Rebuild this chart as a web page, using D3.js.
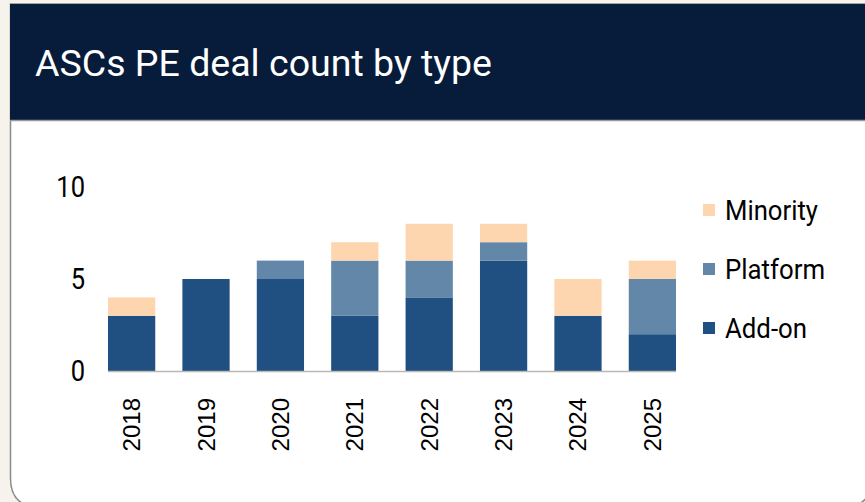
<!DOCTYPE html>
<html><head><meta charset="utf-8">
<script src="https://cdn.jsdelivr.net/npm/d3@7"></script>
<style>html,body{margin:0;padding:0;background:#f6f3ec;overflow:hidden}svg{display:block}</style>
</head><body>
<svg id="c" width="865" height="502"></svg>
<script>
const years = ["2018","2019","2020","2021","2022","2023","2024","2025"];
const addOn = [3,5,5,3,4,6,3,2];
const platform = [0,0,1,3,2,1,0,3];
const minority = [1,0,0,1,2,1,2,1];
const seriesNames = ["Add-on","Platform","Minority"];
const seriesColors = ["#1f5081","#6287a8","#fdd6b0"];
const yTicks = [0,5,10];
const title = "ASCs PE deal count by type";

const svg = d3.select("#c");
// card
svg.append("path")
  .attr("d","M10.5,4 L10.5,478 Q10.5,507 39.5,507 L843,507 Q872,507 872,478 L872,4 Z")
  .attr("fill","#fff").attr("stroke","#8a8a8a").attr("stroke-width",1.5);
svg.append("rect").attr("x",10).attr("y",4).attr("width",855).attr("height",116).attr("fill","#061c3a");
svg.append("line").attr("x1",10).attr("x2",865).attr("y1",120.5).attr("y2",120.5).attr("stroke","#9a9a9a").attr("stroke-width",1.5);
svg.append("text").attr("x",35).attr("y",76).attr("fill","#fff")
  .attr("font-family","Roboto").attr("font-weight",400).attr("font-size",37)
  .attr("textLength",457).attr("lengthAdjust","spacingAndGlyphs").text(title);

const rows = years.map((y,i)=>({year:y,"Add-on":addOn[i],"Platform":platform[i],"Minority":minority[i]}));
const stack = d3.stack().keys(seriesNames)(rows);

const x = d3.scaleBand().domain(years).range([108,676]).paddingInner(0.365).paddingOuter(0);
const y = d3.scaleLinear().domain([0,10]).range([371,187]);
const color = d3.scaleOrdinal().domain(seriesNames).range(seriesColors);

const g = svg.append("g");
g.selectAll("g.s").data(stack).join("g").attr("fill",d=>color(d.key))
  .selectAll("rect").data(d=>d).join("rect")
  .attr("x",d=>x(d.data.year)).attr("width",x.bandwidth())
  .attr("y",d=>y(d[1])).attr("height",d=>y(d[0])-y(d[1]));

// x axis line
svg.append("line").attr("x1",108).attr("x2",676).attr("y1",y(0)+0.5).attr("y2",y(0)+0.5)
  .attr("stroke","#bdb8b3").attr("stroke-width",1.5);

// y labels
const yAxis = d3.axisLeft(y).tickValues(yTicks).tickSize(0).tickPadding(0);
const ya = svg.append("g").attr("transform","translate(85,0)").call(yAxis);
ya.select(".domain").remove();
ya.selectAll("text").attr("font-family","Roboto").attr("font-size",29).attr("fill","#000")
  .attr("transform","scale(0.88,1)");

// x labels
const xAxis = d3.axisBottom(x).tickSize(0).tickPadding(0);
const xa = svg.append("g").attr("transform","translate(0,398)").call(xAxis);
xa.select(".domain").remove();
xa.selectAll("text").attr("font-family","Liberation Sans").attr("font-size",24).attr("fill","#000")
  .attr("text-anchor","end").attr("dy",null).attr("dominant-baseline","central")
  .attr("transform","rotate(-90)").attr("x",0).attr("y",0);

// legend
const leg = svg.append("g");
const legItems = ["Minority","Platform","Add-on"];
const legWidths = [93,100,82];
const ly = d3.scalePoint().domain(legItems).range([210,328]);
legItems.forEach((k,i)=>{
  leg.append("rect").attr("x",703).attr("y",ly(k)-6).attr("width",12).attr("height",12).attr("fill",color(k));
  leg.append("text").attr("x",725).attr("y",ly(k)).attr("dy","0.35em")
    .attr("font-family","Roboto").attr("font-size",28).attr("fill","#000")
    .attr("textLength",legWidths[i]).attr("lengthAdjust","spacingAndGlyphs").text(k);
});
</script>
</body></html>
